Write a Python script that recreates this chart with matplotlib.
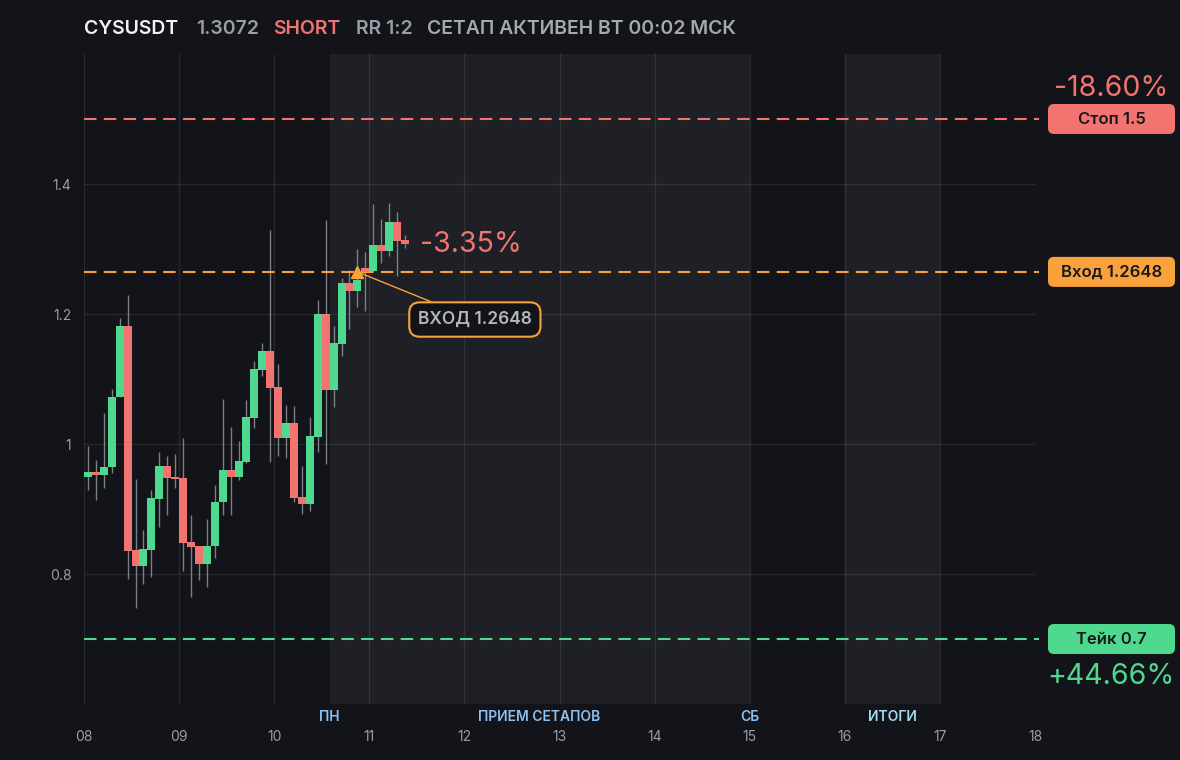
import matplotlib
matplotlib.use("Agg")
import matplotlib.pyplot as plt
from matplotlib.patches import FancyBboxPatch

plt.rcParams['font.family'] = ['Inter', 'DejaVu Sans']

# свечи по 2 часа, начиная с 08 числа
t_start = 8.0
step = 2 / 24
opens = [0.950, 0.957, 0.952, 0.964, 1.072, 1.182, 0.837, 0.812, 0.837, 0.916,
         0.966, 0.948, 0.948, 0.849, 0.843, 0.815, 0.843, 0.911, 0.960, 0.950,
         0.972, 1.040, 1.114, 1.143, 1.087, 1.009, 1.032, 0.918, 0.908, 1.011,
         1.200, 1.083, 1.154, 1.247, 1.236, 1.271, 1.266, 1.306, 1.297, 1.342,
         1.314]
highs = [0.997, 0.976, 1.047, 1.084, 1.194, 1.229, 0.946, 0.867, 0.929, 0.988,
         0.982, 0.985, 1.010, 0.891, 0.843, 0.884, 0.937, 1.069, 1.026, 1.004,
         1.068, 1.128, 1.155, 1.329, 1.123, 1.060, 1.058, 0.966, 1.042, 1.221,
         1.345, 1.182, 1.256, 1.268, 1.300, 1.295, 1.369, 1.346, 1.371, 1.357,
         1.322]
lows = [0.929, 0.914, 0.933, 0.956, 1.072, 0.793, 0.748, 0.785, 0.795, 0.873,
        0.891, 0.933, 0.805, 0.765, 0.791, 0.780, 0.824, 0.891, 0.891, 0.945,
        0.971, 1.025, 1.104, 0.972, 0.982, 0.978, 0.911, 0.892, 0.897, 0.987,
        0.970, 1.057, 1.135, 1.177, 1.211, 1.205, 1.266, 1.279, 1.290, 1.258,
        1.302]
closes = [0.957, 0.952, 0.964, 1.072, 1.182, 0.836, 0.812, 0.838, 0.917, 0.966,
          0.947, 0.946, 0.848, 0.842, 0.815, 0.843, 0.911, 0.960, 0.950, 0.974,
          1.041, 1.115, 1.143, 1.086, 1.009, 1.032, 0.917, 0.908, 1.012, 1.200,
          1.083, 1.155, 1.247, 1.236, 1.252, 1.265, 1.306, 1.297, 1.342, 1.312,
          1.3072]

symbol = "CYSUSDT"
entry = 1.2648
stop = 1.5
take = 0.7
entry_idx = 34

phases = ["ПН", "ПРИЕМ СЕТАПОВ", "СБ", "ИТОГИ"]
phase_x = [10.583, 12.79, 15.0, 16.5]
bands = [(10.583, 15.0), (16.0, 17.0)]
day_ticks = list(range(8, 19))

BG = '#131419'
BAND = '#1f2025'
GREEN = '#4ed98f'
RED = '#f2736f'
ORANGE = '#f9a13a'
GREY = '#9a9da5'

times = [t_start + step * i + step / 2 for i in range(len(opens))]
last = closes[-1]

fig = plt.figure(figsize=(11.8, 7.6), dpi=100, facecolor=BG)
ax = fig.add_axes([84 / 1180, 56 / 760, 951 / 1180, 650 / 760])
ax.set_facecolor(BG)
ax.set_xlim(8, 18)
ax.set_ylim(0.6, 1.6)

for a, b in bands:
    ax.axvspan(a, b, color=BAND, zorder=0, lw=0)

ax.set_xticks(day_ticks)
ax.set_xticklabels([f"{d:02d}" for d in day_ticks])
ax.set_yticks([0.8, 1.0, 1.2, 1.4])
ax.set_yticklabels(["0.8", "1", "1.2", "1.4"])
ax.grid(True, color='white', alpha=0.085, lw=1, zorder=1)
ax.tick_params(length=0, colors=GREY, labelsize=10)
ax.tick_params(axis='x', pad=19)
ax.tick_params(axis='y', pad=9)
for s in ax.spines.values():
    s.set_visible(False)

# фитили и тела свечей
cols = [GREEN if c >= o else RED for o, c in zip(opens, closes)]
ax.vlines(times, lows, highs, color='#7c7f86', lw=1, zorder=2)
bottoms = [min(o, c) for o, c in zip(opens, closes)]
heights = [max(abs(c - o), 0.004) for o, c in zip(opens, closes)]
ax.bar(times, heights, bottom=bottoms, width=step, color=cols, lw=0, zorder=3)

# уровни
ax.axhline(stop, color=RED, lw=1.5, dashes=(6, 3.5), zorder=2)
ax.axhline(entry, color=ORANGE, lw=1.5, dashes=(6, 3.5), zorder=2)
ax.axhline(take, color=GREEN, lw=1.5, dashes=(6, 3.5), zorder=2)

ax.plot(times[entry_idx], entry, marker='^', ms=8.5, color=ORANGE, zorder=5)
ax.annotate(f"ВХОД {entry}", xy=(times[entry_idx], entry), xytext=(12.11, 1.1915),
            ha='center', va='center', fontsize=12.5, color='#b3b6bd', fontweight='semibold',
            arrowprops=dict(arrowstyle='-', color=ORANGE, lw=1, shrinkA=0, shrinkB=3),
            bbox=dict(boxstyle='round,pad=0.5,rounding_size=0.6', fc=BG, ec=ORANGE, lw=1.5),
            zorder=6)

pnl = -(last - entry) / entry * 100
ax.text(11.53, last, f"{pnl:.2f}%", color=RED, fontsize=20.5, va='center', ha='left', zorder=6)

for name, x in zip(phases, phase_x):
    c = '#a6dcf2' if name == "ИТОГИ" else '#8cbff2'
    ax.text(x, -0.02, name, transform=ax.get_xaxis_transform(), ha='center', va='center',
            fontsize=10, color=c, fontweight='semibold')

# правая колонка с уровнями
ax2 = fig.add_axes([1035 / 1180, 56 / 760, 145 / 1180, 650 / 760])
ax2.set_xlim(0, 145)
ax2.set_ylim(0.6, 1.6)
ax2.axis('off')
ppx = 1 / 650
for lvl, label, c in [(stop, f"Стоп {stop}", RED), (entry, f"Вход {entry}", ORANGE),
                      (take, f"Тейк {take}", GREEN)]:
    ax2.add_patch(FancyBboxPatch((13, lvl - 15 * ppx), 127, 30 * ppx,
                                 boxstyle="round,pad=0,rounding_size=6",
                                 mutation_aspect=ppx, fc=c, ec='none'))
    ax2.text(76.5, lvl, label, ha='center', va='center', fontsize=12,
             color='#17181c', fontweight='semibold')
    ax2.plot([0, 3], [lvl, lvl], color=c, lw=1.5, clip_on=False)

stop_pct = -(stop - entry) / entry * 100
take_pct = (entry - take) / entry * 100
ax2.text(76, stop + 31 * ppx, f"{stop_pct:.2f}%", ha='center', va='center', fontsize=20.5, color=RED)
ax2.text(76, take - 38 * ppx, f"+{take_pct:.2f}%", ha='center', va='center', fontsize=20.5, color=GREEN)

# заголовок
ty = 1 - 29 / 760
head = [(84, symbol, '#f2f3f5'), (196, f"{last}", GREY), (273, "SHORT", RED),
        (356, "RR 1:2", GREY), (427, "СЕТАП АКТИВЕН ВТ 00:02 МСК", '#a5a8af')]
for px, s, c in head:
    fig.text(px / 1180, ty, s, color=c, fontsize=14, fontweight='semibold', va='center', ha='left')

fig.savefig('out.png', dpi=100, facecolor=BG)
